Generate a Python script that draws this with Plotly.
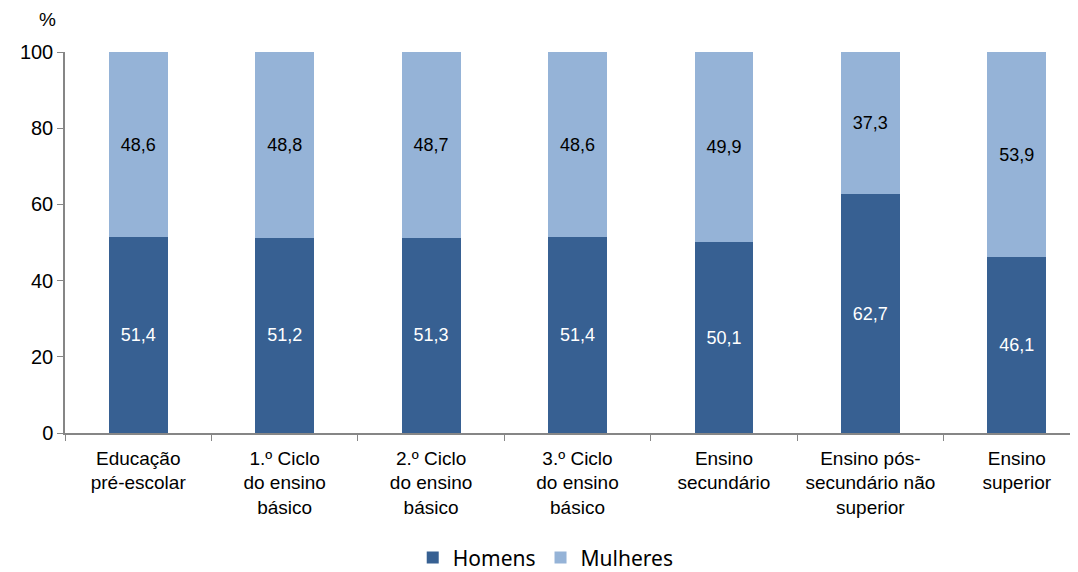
import plotly.graph_objects as go

# ------------------------------------------------------------
# Data
# ------------------------------------------------------------
categories = [
    "Educação<br>pré-escolar",
    "1.º Ciclo<br>do ensino<br>básico",
    "2.º Ciclo<br>do ensino<br>básico",
    "3.º Ciclo<br>do ensino<br>básico",
    "Ensino<br>secundário",
    "Ensino pós-<br>secundário não<br>superior",
    "Ensino<br>superior",
]
homens = [51.4, 51.2, 51.3, 51.4, 50.1, 62.7, 46.1]
mulheres = [48.6, 48.8, 48.7, 48.6, 49.9, 37.3, 53.9]

DARK = "#376092"
LIGHT = "#95B3D7"
AXIS = "#868686"
FONT = "Liberation Sans"


def fmt(values):
    return [f"{v:.1f}".replace(".", ",") for v in values]


fig = go.Figure()
fig.add_trace(go.Bar(
    x=categories, y=homens, name="Homens",
    marker=dict(color=DARK, line=dict(width=0)),
    text=fmt(homens), textposition="inside", insidetextanchor="middle",
    textfont=dict(color="white", size=18, family=FONT),
))
fig.add_trace(go.Bar(
    x=categories, y=mulheres, name="Mulheres",
    marker=dict(color=LIGHT, line=dict(width=0)),
    text=fmt(mulheres), textposition="inside", insidetextanchor="middle",
    textfont=dict(color="black", size=18, family=FONT),
))

# page body has an 8px margin, so the figure is sized/margined to compensate;
# the original chart runs slightly past the right edge of the picture
fig.update_layout(
    barmode="stack",
    bargap=0.598,
    width=1083, height=564,
    margin=dict(l=57, r=1, t=44, b=139, autoexpand=False),
    plot_bgcolor="white",
    paper_bgcolor="white",
    font=dict(family=FONT, size=20, color="black"),
    legend=dict(
        orientation="h",
        x=0.469, xanchor="center",
        y=-0.328, yanchor="middle",
        font=dict(family="Noto Sans", size=21),
        traceorder="normal",
    ),
    annotations=[dict(
        text="%", x=-0.017, y=1.084, xref="paper", yref="paper",
        xanchor="center", yanchor="middle", showarrow=False,
        font=dict(family=FONT, size=19),
    )],
)

fig.update_xaxes(
    showline=True, linecolor=AXIS, linewidth=1.5,
    ticks="outside", tickson="boundaries", ticklen=6, tickcolor=AXIS,
    showgrid=False, tickangle=0, automargin=False,
    ticklabelstandoff=7,
    tickfont=dict(family=FONT, size=19),
)
fig.update_yaxes(
    range=[0, 100], dtick=20,
    showline=True, linecolor=AXIS, linewidth=1.5,
    ticks="outside", ticklen=6, tickcolor=AXIS,
    showgrid=False, zeroline=False, automargin=False,
    tickfont=dict(family=FONT, size=20),
)

fig.write_html("out.html")
